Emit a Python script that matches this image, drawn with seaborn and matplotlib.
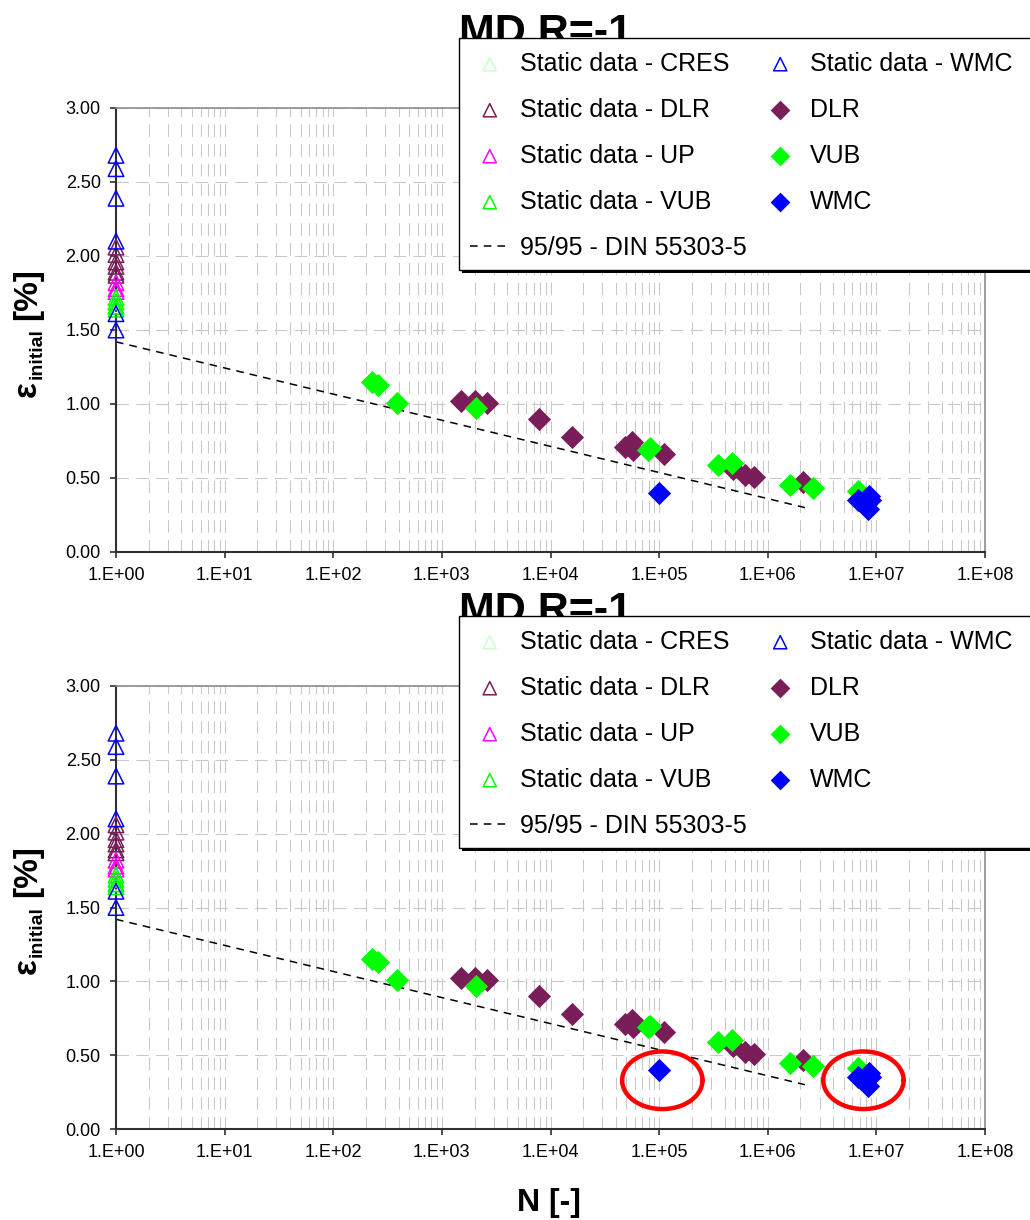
import numpy as np
import seaborn as sns
import matplotlib.pyplot as plt
from matplotlib.patches import Rectangle
from matplotlib.ticker import FixedLocator, FuncFormatter, NullFormatter

# --- Data ---
# static strength values, all plotted at N = 1
static_cres = [1.70, 1.67]
static_dlr = [2.06, 2.01, 1.96, 1.93, 1.89, 1.87]
static_up = [1.82, 1.78, 1.76]
static_vub = [1.72, 1.69, 1.66, 1.64]
static_wmc = [2.68, 2.59, 2.39, 2.10, 1.61, 1.50]

# fatigue results
dlr_n = [1500, 2020, 2600, 7900, 15800, 49000, 56000, 57600, 110000,
         480000, 620000, 740000, 2.1e6]
dlr_eps = [1.02, 1.02, 1.01, 0.90, 0.78, 0.71, 0.74, 0.69, 0.66,
           0.56, 0.52, 0.51, 0.47]
vub_n = [229, 257, 389, 2040, 79000, 83000, 350000, 470000,
         1.6e6, 2.6e6, 6.8e6]
vub_eps = [1.15, 1.13, 1.01, 0.97, 0.69, 0.70, 0.59, 0.60,
           0.45, 0.43, 0.41]
wmc_n = [1.0e5, 6.8e6, 8.7e6, 8.3e6, 8.5e6]
wmc_eps = [0.40, 0.35, 0.35, 0.29, 0.38]

# 95/95 design line
line_n = [1, 2.2e6]
line_eps = [1.42, 0.30]

# red rings (bottom panel only): centre N, centre eps, half width [decades], half height
ring_n = [1.07e5, 7.6e6]
ring_eps = [0.33, 0.33]
ring_hw = 0.37
ring_hh = 0.195

x_ticks = [10.0 ** k for k in range(9)]
y_ticks = [0.0, 0.5, 1.0, 1.5, 2.0, 2.5, 3.0]

purple = '#7a1e5a'
green = '#00ff00'
blue = '#0000ff'
magenta = '#ff00ff'
cres_green = '#ccffcc'

sns.set_style('white')
plt.rcParams['font.family'] = ['Liberation Sans', 'DejaVu Sans']
plt.rcParams['text.color'] = 'black'
plt.rcParams['xtick.color'] = 'black'
plt.rcParams['ytick.color'] = 'black'
plt.rcParams['axes.labelcolor'] = 'black'

W, H = 1030, 1220
fig = plt.figure(figsize=(W / 100, H / 100), dpi=100)


def fx(px):
    return px / W


def fy(py):
    return 1 - py / H


def panel(ax_top_px, ax_bot_px, rings=False):
    ax = fig.add_axes([fx(116), fy(ax_bot_px), fx(985) - fx(116), fy(ax_top_px) - fy(ax_bot_px)])
    ax.set_xscale('log')

    tri = dict(marker='^', s=125, facecolor='none', linewidth=1.1, clip_on=False, zorder=3)
    for vals, col, name in [(static_cres, cres_green, 'Static data - CRES'),
                            (static_dlr, purple, 'Static data - DLR'),
                            (static_up, magenta, 'Static data - UP'),
                            (static_vub, green, 'Static data - VUB'),
                            (static_wmc, blue, 'Static data - WMC')]:
        sns.scatterplot(x=[1.0] * len(vals), y=vals, color=col, edgecolor=col,
                        label=name, ax=ax, **tri)

    dia = dict(marker='D', s=140, linewidth=0, clip_on=False, zorder=3)
    sns.scatterplot(x=dlr_n, y=dlr_eps, color=purple, label='DLR', ax=ax, **dia)
    sns.scatterplot(x=vub_n, y=vub_eps, color=green, label='VUB', ax=ax, **dia)
    sns.scatterplot(x=wmc_n, y=wmc_eps, color=blue, label='WMC', ax=ax, **dia)

    sns.lineplot(x=line_n, y=line_eps, color='black', linestyle=(0, (5, 4)),
                 linewidth=1.1, label='95/95 - DIN 55303-5', ax=ax, zorder=2)

    if rings:
        t = np.linspace(0, 2 * np.pi, 300)
        for cn, ce in zip(ring_n, ring_eps):
            ax.plot(cn * 10 ** (ring_hw * np.cos(t)), ce + ring_hh * np.sin(t),
                    color='#ff0000', lw=3.2, zorder=4)

    ax.set_xlim(1, 1e8)
    ax.set_ylim(0, 3)
    ax.xaxis.set_major_locator(FixedLocator(x_ticks))
    ax.xaxis.set_major_formatter(FuncFormatter(lambda v, p: f"1.E+{int(round(np.log10(v))):02d}"))
    minors = [m * 10.0 ** k for k in range(8) for m in range(2, 10)]
    ax.xaxis.set_minor_locator(FixedLocator(minors))
    ax.xaxis.set_minor_formatter(NullFormatter())
    ax.yaxis.set_major_locator(FixedLocator(y_ticks))
    ax.yaxis.set_major_formatter(FuncFormatter(lambda v, p: f"{v:.2f}"))

    grid = dict(color='#c8c8c8', linestyle=(0, (12, 7)), linewidth=0.75)
    ax.grid(True, which='both', axis='x', **grid)
    ax.grid(True, which='major', axis='y', **grid)
    ax.set_axisbelow(True)

    ax.tick_params(axis='both', which='major', direction='out', length=4, width=1.2,
                   color='#303030', labelcolor='black', labelsize=13, pad=7,
                   bottom=True, left=True)
    ax.tick_params(axis='x', which='minor', length=0)
    for side in ['left', 'bottom']:
        ax.spines[side].set_color('#303030')
        ax.spines[side].set_linewidth(1.5)
    for side in ['top', 'right']:
        ax.spines[side].set_color('#8c8c8c')
        ax.spines[side].set_linewidth(1.2)
    ax.set_xlabel('')
    ax.set_ylabel('')

    # title sits behind the legend box
    off = ax_top_px - 108
    ax.text(fx(546), fy(44 + off), 'MD R=-1', transform=fig.transFigure, ha='center',
            va='baseline', fontsize=31, fontweight='bold', color='black', zorder=3)

    # y label: epsilon with subscript
    eps = ax.text(fx(43), fy(ax_bot_px - 0.35 * (ax_bot_px - ax_top_px)), 'ε',
                  transform=fig.transFigure, rotation=90, ha='right', va='bottom',
                  fontsize=24, fontweight='bold', color='black')
    ini = ax.annotate('initial', xy=(1, 1), xycoords=eps, xytext=(2, 1),
                      textcoords='offset points', rotation=90, ha='right', va='bottom',
                      fontsize=14, fontweight='bold', color='black')
    ax.annotate('[%]', xy=(1, 1), xycoords=ini, xytext=(-2, 6),
                textcoords='offset points', rotation=90, ha='right', va='bottom',
                fontsize=24, fontweight='bold', color='black')

    # legend box (runs past the right edge of the figure)
    lt, lb = 38 + off, 270 + off
    ax.add_patch(Rectangle((fx(462), fy(lb + 3)), fx(1060) - fx(462), fy(lt + 3) - fy(lb + 3),
                           transform=fig.transFigure, facecolor='black', edgecolor='none',
                           clip_on=False, zorder=4.4))
    ax.add_patch(Rectangle((fx(459), fy(lb)), fx(1060) - fx(459), fy(lt) - fy(lb),
                           transform=fig.transFigure, facecolor='white', edgecolor='black',
                           linewidth=1, clip_on=False, zorder=4.5))

    order = ['Static data - CRES', 'Static data - DLR', 'Static data - UP',
             'Static data - VUB', '95/95 - DIN 55303-5', 'Static data - WMC',
             'DLR', 'VUB', 'WMC']
    handles, labels = ax.get_legend_handles_labels()
    hmap = dict(zip(labels, handles))
    leg = ax.legend([hmap[k] for k in order], order, ncol=2, loc='upper left',
                    bbox_to_anchor=(fx(456), fy(lt)), bbox_transform=fig.transFigure,
                    borderaxespad=0, borderpad=0.55, frameon=False, fontsize=18,
                    labelspacing=0.88, handlelength=1.6, handletextpad=0.4,
                    columnspacing=0.55, scatterpoints=1, markerscale=0.85)
    for txt in leg.get_texts():
        txt.set_color('black')
    leg.set_zorder(5)
    return ax


panel(108, 552)
panel(686, 1129, rings=True)

fig.text(fx(549), fy(1203), 'N [-]', ha='center', va='center', fontsize=23,
         fontweight='bold', color='black')

plt.savefig('out.png', dpi=100)
